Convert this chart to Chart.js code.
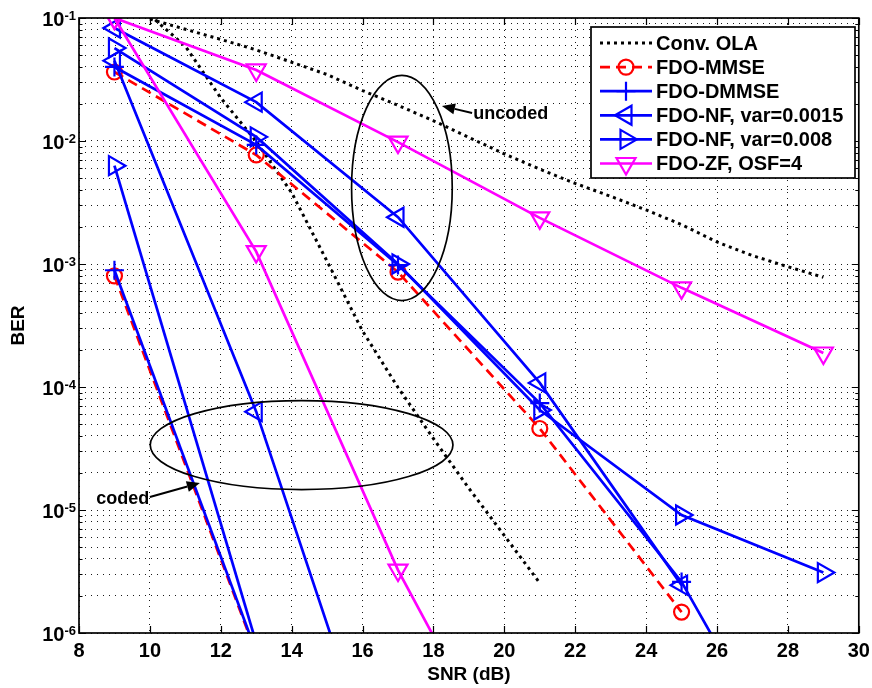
<!DOCTYPE html>
<html>
<head>
<meta charset="utf-8">
<script src="https://cdn.jsdelivr.net/npm/chart.js@4.4.0/dist/chart.umd.min.js"></script>
<style>
  html, body { margin: 0; padding: 0; background: #fff; }
  #wrap { width: 872px; height: 688px; }
</style>
</head>
<body>
<div id="wrap"><canvas id="c" width="872" height="688"></canvas></div>
<script>
// BER vs SNR, MATLAB-style semilogy figure

const FONT = "'Liberation Sans', Arial, Helvetica, sans-serif";

// x values
const SNR_UNC = [9, 13, 17, 21, 25, 29];
const SNR_COD = [9, 13, 17, 21];
const SNR_OLA_UNC = [10, 11, 12, 13, 14, 15, 16, 17, 18, 19, 20, 21, 22, 23, 24, 25, 26, 27, 28, 29];
const SNR_OLA_COD = [10, 11, 12, 13, 14, 15, 16, 17, 18, 19, 20, 21];

// BER values (uncoded / coded)
const OLA_UNC = [0.098, 0.081, 0.067, 0.055, 0.0437, 0.0347, 0.0257, 0.0195, 0.0146, 0.0107,
                 0.00785, 0.0059, 0.00452, 0.00355, 0.00275, 0.00209, 0.00151, 0.00117, 0.00095, 0.00078];
const OLA_COD = [0.105, 0.059, 0.0224, 0.0099, 0.0038, 0.00105, 2.85e-4, 9.9e-5, 3.8e-5, 1.5e-5, 6.2e-6, 2.55e-6];
const MMSE_UNC = [0.0364, 0.0077, 8.6e-4, 4.6e-5, 1.48e-6];
const MMSE_COD = [8.0e-4, 6.8e-7];
const DMMSE_UNC = [0.040, 0.0093, 9.8e-4, 7.4e-5, 2.6e-6, 2.4e-8];
const DMMSE_COD = [8.9e-4, 7.0e-7];
const NF15_UNC = [0.083, 0.0207, 0.0024, 1.08e-4, 2.45e-6];
const NF15_COD = [0.045, 6.3e-5, 2.2e-8];
const NF8_UNC = [0.057, 0.0108, 1.0e-3, 6.5e-5, 9.1e-6, 3.1e-6];
const NF8_COD = [6.3e-3, 8.3e-7];
const ZF_UNC = [0.1, 0.0378, 0.0098, 0.00237, 6.4e-4, 1.89e-4];
const ZF_COD = [0.1, 1.26e-3, 3.25e-6, 2.3e-8];

// axis ticks
const X_TICKS = [8, 10, 12, 14, 16, 18, 20, 22, 24, 26, 28, 30];
const Y_EXPONENTS = [-6, -5, -4, -3, -2, -1];

const LEGEND_LABELS = ['Conv. OLA', 'FDO-MMSE', 'FDO-DMMSE', 'FDO-NF, var=0.0015', 'FDO-NF, var=0.008', 'FDO-ZF, OSF=4'];

// annotations, in data units (x in dB, y in log10 BER)
const ELLIPSES = [
    { x: 17.11, ly: -2.382, rx: 1.42, ry: 0.915 },
    { x: 14.28, ly: -4.472, rx: 4.27, ry: 0.362 },
];
const NOTES = [
    { text: 'uncoded', tip: [18.24, -1.715], tail: [19.09, -1.772], at: [19.12, -1.78], align: 'left' },
    { text: 'coded', tip: [11.41, -4.78], tail: [10.0, -4.894], at: [9.98, -4.91], align: 'right' },
];

const BLUE = '#0000ff', RED = '#ff0000', MAG = '#ff00ff', BLACK = '#000000';

const STYLES = {
    ola:   { color: BLACK, dash: [3, 4], marker: null, width: 3 },
    mmse:  { color: RED, dash: [10, 6], marker: 'circle', width: 2.7 },
    dmmse: { color: BLUE, dash: [], marker: 'cross', width: 2.7 },
    nf15:  { color: BLUE, dash: [], marker: 'left', width: 2.7 },
    nf8:   { color: BLUE, dash: [], marker: 'right', width: 2.7 },
    zf:    { color: MAG, dash: [], marker: 'down', width: 2.7 },
};

function pointOpts(marker) {
    if (!marker) return { pointRadius: 0 };
    const map = {
        circle: { pointStyle: 'circle', pointRadius: 7.5, pointRotation: 0 },
        cross: { pointStyle: 'cross', pointRadius: 9.5, pointRotation: 0 },
        left: { pointStyle: 'triangle', pointRadius: 11, pointRotation: -90 },
        right: { pointStyle: 'triangle', pointRadius: 11, pointRotation: 90 },
        down: { pointStyle: 'triangle', pointRadius: 11, pointRotation: 180 },
    };
    return map[marker];
}

function series(label, xs, ys, key, order) {
    const s = STYLES[key];
    return {
        label,
        data: ys.map((v, i) => ({ x: xs[i], y: v })),
        borderColor: s.color,
        backgroundColor: s.color,
        borderWidth: s.width,
        borderDash: s.dash,
        pointBorderColor: s.color,
        pointBackgroundColor: 'rgba(0,0,0,0)',
        pointBorderWidth: 2.2,
        tension: 0,
        clip: 0,
        order,
        ...pointOpts(s.marker),
    };
}

const datasets = [
    series('Conv. OLA', SNR_OLA_UNC, OLA_UNC, 'ola', 7),
    series('Conv. OLA coded', SNR_OLA_COD, OLA_COD, 'ola', 7),
    series('FDO-MMSE', SNR_UNC, MMSE_UNC, 'mmse', 6),
    series('FDO-MMSE coded', SNR_COD, MMSE_COD, 'mmse', 6),
    series('FDO-DMMSE', SNR_UNC, DMMSE_UNC, 'dmmse', 5),
    series('FDO-DMMSE coded', SNR_COD, DMMSE_COD, 'dmmse', 5),
    series('FDO-NF, var=0.0015', SNR_UNC, NF15_UNC, 'nf15', 4),
    series('FDO-NF, var=0.0015 coded', SNR_COD, NF15_COD, 'nf15', 4),
    series('FDO-NF, var=0.008', SNR_UNC, NF8_UNC, 'nf8', 3),
    series('FDO-NF, var=0.008 coded', SNR_COD, NF8_COD, 'nf8', 3),
    series('FDO-ZF, OSF=4', SNR_UNC, ZF_UNC, 'zf', 2),
    series('FDO-ZF, OSF=4 coded', SNR_COD, ZF_COD, 'zf', 2),
];

// small marker painter for the legend
function drawMarker(ctx, kind, x, y) {
    ctx.beginPath();
    if (kind === 'circle') {
        ctx.arc(x, y, 7.5, 0, Math.PI * 2);
    } else if (kind === 'cross') {
        ctx.moveTo(x - 9.5, y); ctx.lineTo(x + 9.5, y);
        ctx.moveTo(x, y - 9.5); ctx.lineTo(x, y + 9.5);
    } else {
        const rot = { left: -Math.PI / 2, right: Math.PI / 2, down: Math.PI }[kind];
        const r = 11;
        for (let k = 0; k < 3; k++) {
            const a = rot + k * 2 * Math.PI / 3;
            const px = x + Math.sin(a) * r, py = y - Math.cos(a) * r;
            if (k === 0) ctx.moveTo(px, py); else ctx.lineTo(px, py);
        }
        ctx.closePath();
    }
    ctx.stroke();
}

function drawArrow(ctx, x0, y0, x1, y1) {
    const ang = Math.atan2(y1 - y0, x1 - x0);
    const L = 13, W = 5.5;
    const bx = x1 - Math.cos(ang) * L, by = y1 - Math.sin(ang) * L;
    ctx.beginPath();
    ctx.moveTo(x0, y0);
    ctx.lineTo(bx, by);
    ctx.stroke();
    ctx.beginPath();
    ctx.moveTo(x1, y1);
    ctx.lineTo(bx - Math.sin(ang) * W, by + Math.cos(ang) * W);
    ctx.lineTo(bx + Math.sin(ang) * W, by - Math.cos(ang) * W);
    ctx.closePath();
    ctx.fill();
}

const overlay = {
    id: 'overlay',
    afterDatasetsDraw(chart) {
        const { ctx, scales: { x, y } } = chart;
        ctx.save();
        ctx.strokeStyle = BLACK;
        ctx.fillStyle = BLACK;
        ctx.lineWidth = 1.7;
        ctx.setLineDash([]);
        for (const e of ELLIPSES) {
            const cx = x.getPixelForValue(e.x);
            const cy = y.getPixelForValue(Math.pow(10, e.ly));
            const rx = x.getPixelForValue(e.x + e.rx) - cx;
            const ry = cy - y.getPixelForValue(Math.pow(10, e.ly + e.ry));
            ctx.beginPath();
            ctx.ellipse(cx, cy, rx, ry, 0, 0, Math.PI * 2);
            ctx.stroke();
        }
        ctx.lineWidth = 2;
        ctx.font = 'bold 18px ' + FONT;
        ctx.textBaseline = 'middle';
        for (const n of NOTES) {
            const p = (pt) => [x.getPixelForValue(pt[0]), y.getPixelForValue(Math.pow(10, pt[1]))];
            const [tx, ty] = p(n.tail), [hx, hy] = p(n.tip), [ax, ay] = p(n.at);
            drawArrow(ctx, tx, ty, hx, hy);
            ctx.textAlign = n.align;
            ctx.fillText(n.text, ax, ay);
        }
        ctx.restore();
    },
    afterDraw(chart) {
        const { ctx, chartArea: a, scales: { x, y } } = chart;
        ctx.save();
        ctx.setLineDash([]);
        ctx.strokeStyle = BLACK;
        ctx.fillStyle = BLACK;

        // inward tick marks
        ctx.lineWidth = 1.2;
        ctx.beginPath();
        for (const v of X_TICKS) {
            const px = Math.round(x.getPixelForValue(v)) + 0.5;
            ctx.moveTo(px, a.bottom); ctx.lineTo(px, a.bottom - 7);
            ctx.moveTo(px, a.top); ctx.lineTo(px, a.top + 7);
        }
        for (const e of Y_EXPONENTS) {
            for (let m = 1; m <= 9; m++) {
                const v = m * Math.pow(10, e);
                if (v > 0.1 + 1e-12) continue;
                const py = Math.round(y.getPixelForValue(v)) + 0.5;
                const len = m === 1 ? 7 : 3.5;
                ctx.moveTo(a.left, py); ctx.lineTo(a.left + len, py);
                ctx.moveTo(a.right, py); ctx.lineTo(a.right - len, py);
            }
        }
        ctx.stroke();

        // axes box
        ctx.lineWidth = 1.7;
        ctx.strokeRect(a.left, a.top, a.right - a.left, a.bottom - a.top);

        // x tick labels
        ctx.font = 'bold 20px ' + FONT;
        ctx.textAlign = 'center';
        ctx.textBaseline = 'middle';
        for (const v of X_TICKS) {
            ctx.fillText(String(v), x.getPixelForValue(v), a.bottom + 18);
        }

        // y tick labels: 10 with superscript exponent
        for (const e of Y_EXPONENTS) {
            const py = y.getPixelForValue(Math.pow(10, e));
            ctx.font = 'bold 13px ' + FONT;
            const sup = String(e);
            const sw = ctx.measureText(sup).width;
            ctx.textAlign = 'left';
            ctx.textBaseline = 'alphabetic';
            ctx.fillText(sup, 76 - sw, py + 2);
            ctx.font = 'bold 20px ' + FONT;
            ctx.textAlign = 'right';
            ctx.fillText('10', 76 - sw, py + 8);
        }

        // axis titles
        ctx.font = 'bold 19px ' + FONT;
        ctx.textAlign = 'center';
        ctx.textBaseline = 'middle';
        ctx.fillText('SNR (dB)', (a.left + a.right) / 2, 675);
        ctx.save();
        ctx.translate(19, (a.top + a.bottom) / 2);
        ctx.rotate(-Math.PI / 2);
        ctx.fillText('BER', 0, 0);
        ctx.restore();

        // legend
        const keys = ['ola', 'mmse', 'dmmse', 'nf15', 'nf8', 'zf'];
        const bx = 591, by = 27, bw = 264, bh = 151;
        ctx.fillStyle = '#ffffff';
        ctx.fillRect(bx, by, bw, bh);
        ctx.lineWidth = 1.7;
        ctx.strokeStyle = BLACK;
        ctx.strokeRect(bx, by, bw, bh);
        ctx.font = 'bold 20px ' + FONT;
        ctx.textAlign = 'left';
        ctx.textBaseline = 'middle';
        keys.forEach((k, i) => {
            const s = STYLES[k];
            const ry = 43 + i * 24.1;
            ctx.strokeStyle = s.color;
            ctx.lineWidth = s.width;
            ctx.setLineDash(s.dash);
            ctx.beginPath();
            ctx.moveTo(600, ry); ctx.lineTo(652, ry);
            ctx.stroke();
            ctx.setLineDash([]);
            if (s.marker) {
                ctx.lineWidth = 2.2;
                drawMarker(ctx, s.marker, 626, ry);
            }
            ctx.fillStyle = BLACK;
            ctx.fillText(LEGEND_LABELS[i], 656, ry + 1);
        });
        ctx.restore();
    },
};

const yGridTicks = [];
for (const e of Y_EXPONENTS) {
    for (let m = 1; m <= 9; m++) {
        const v = m * Math.pow(10, e);
        if (v <= 0.1 + 1e-12) yGridTicks.push(v);
    }
}

new Chart(document.getElementById('c'), {
    type: 'line',
    data: { datasets },
    options: {
        responsive: false,
        animation: false,
        layout: { padding: { top: 18, right: 13, left: 0, bottom: 0 } },
        plugins: {
            legend: { display: false },
            tooltip: { enabled: false },
        },
        scales: {
            x: {
                type: 'linear',
                min: 8,
                max: 30,
                afterBuildTicks: (scale) => { scale.ticks = X_TICKS.map(v => ({ value: v })); },
                afterFit: (scale) => { scale.height = 55; },
                ticks: { display: false },
                grid: { color: '#1a1a1a', lineWidth: 1, drawTicks: false },
                border: { display: false, dash: [1, 5] },
            },
            y: {
                type: 'logarithmic',
                min: 1e-6,
                max: 1e-1,
                afterBuildTicks: (scale) => { scale.ticks = yGridTicks.map(v => ({ value: v })); },
                afterFit: (scale) => { scale.width = 79; },
                ticks: { display: false },
                grid: { color: '#1a1a1a', lineWidth: 1, drawTicks: false },
                border: { display: false, dash: [1, 5] },
            },
        },
    },
    plugins: [overlay],
});
</script>
</body>
</html>
